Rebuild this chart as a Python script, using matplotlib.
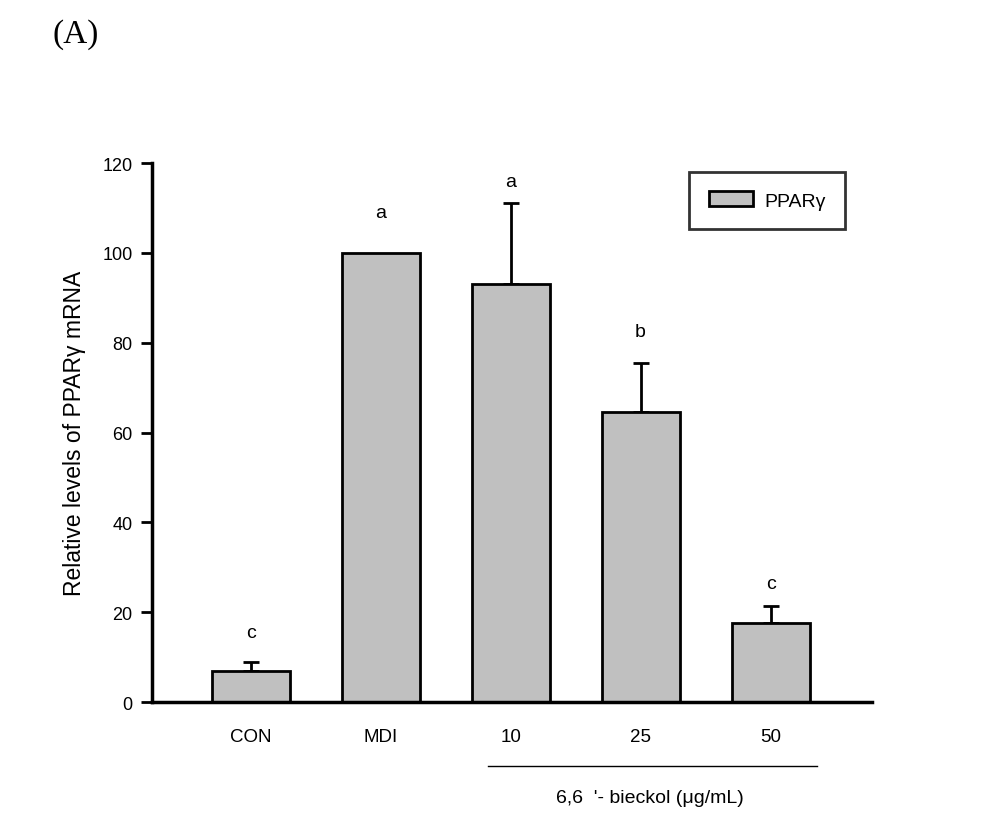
import matplotlib
matplotlib.use("Agg")
import matplotlib.pyplot as plt
from matplotlib.patches import Patch
from matplotlib.lines import Line2D

categories = ["CON", "MDI", "10", "25", "50"]
values = [7.0, 100.0, 93.0, 64.5, 17.7]
errors = [1.9, 0.0, 18.0, 11.0, 3.8]
letters = ["c", "a", "a", "b", "c"]
letter_y = [15.4, 109.0, 116.0, 82.6, 26.3]
yticks = [0, 20, 40, 60, 80, 100, 120]

plt.rcParams['font.family'] = ['Liberation Sans', 'DejaVu Sans']

fig = plt.figure(figsize=(9.88, 8.37), dpi=100)
ax = fig.add_axes([0.1538, 0.160, 0.7287, 0.644])

x = list(range(len(categories)))
bars = ax.bar(x, values, width=0.6, color="#c0c0c0", edgecolor="black", linewidth=2, zorder=2)
for xi, v, e in zip(x, values, errors):
    if e > 0:
        ax.errorbar([xi], [v], yerr=[[0], [e]], fmt="none", ecolor="black",
                    elinewidth=2, capsize=6, capthick=2, zorder=1)
for xi, l, ly in zip(x, letters, letter_y):
    ax.text(xi, ly, l, ha="center", va="center", fontsize=14)

ax.set_xlim(-0.76, 4.78)
ax.set_ylim(0, 120)
ax.set_yticks(yticks)
ax.set_yticklabels([str(t) for t in yticks], fontsize=13)
ax.set_xticks(x)
ax.set_xticklabels(categories, fontsize=13.5)
ax.tick_params(axis="x", length=0, pad=19)
ax.tick_params(axis="y", direction="out", length=8, width=2, pad=6)
for s in ["top", "right"]:
    ax.spines[s].set_visible(False)
for s in ["left", "bottom"]:
    ax.spines[s].set_linewidth(2.5)

ax.set_ylabel("Relative levels of PPARγ mRNA", fontsize=16.5, labelpad=12)

# group line and label for concentrations
line = Line2D([488/988, 817/988], [1-767/837, 1-767/837], transform=fig.transFigure,
              color="black", linewidth=1)
fig.add_artist(line)
fig.text(650/988, 1-799/837, "6,6  '- bieckol (μg/mL)", ha="center", va="center", fontsize=14)

leg = ax.legend([Patch(facecolor="#c0c0c0", edgecolor="black", linewidth=2)], ["PPARγ"],
                loc="upper right", bbox_to_anchor=(845/988, 1-173/837), bbox_transform=fig.transFigure,
                fontsize=14, frameon=True, fancybox=False, handlelength=2.3, handleheight=0.78,
                handletextpad=0.55, borderpad=1.0, borderaxespad=0)
leg.get_frame().set_edgecolor("black")
leg.get_frame().set_linewidth(2)

fig.text(52/988, 1-35/837, "(A)", fontsize=24, family="Liberation Serif", va="center", ha="left")

fig.savefig("out.png", dpi=100)
